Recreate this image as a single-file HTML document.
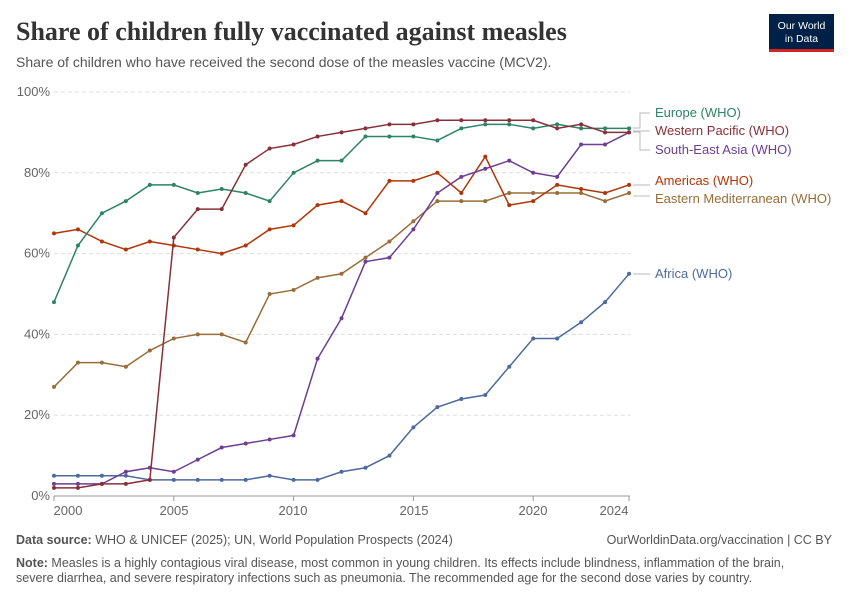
<!DOCTYPE html>
<html><head><meta charset="utf-8"><style>
body{margin:0;background:#fff;font-family:"Liberation Sans",sans-serif;}
svg text{font-family:"Liberation Sans",sans-serif;}
</style></head><body>
<svg id="s" width="850" height="600" xmlns="http://www.w3.org/2000/svg">
<rect width="850" height="600" fill="#fff"/>
<text x="16" y="40" style="font-family:'Liberation Serif',serif" font-size="26" font-weight="bold" fill="#333">Share of children fully vaccinated against measles</text>
<text x="16" y="67" font-size="14" fill="#555">Share of children who have received the second dose of the measles vaccine (MCV2).</text>
<rect x="769" y="14" width="65" height="38" fill="#002147"/>
<rect x="769" y="49" width="65" height="3" fill="#ce261e"/>
<text x="801.5" y="29" font-size="10.5" fill="#fff" text-anchor="middle">Our World</text>
<text x="801.5" y="42" font-size="10.5" fill="#fff" text-anchor="middle">in Data</text>
<g id="grid" font-size="13" fill="#666"></g>
<g id="lines"></g>
<g font-size="13">
<text x="655" y="117" fill="#2c8465">Europe (WHO)</text>
<text x="655" y="135" fill="#883039">Western Pacific (WHO)</text>
<text x="655" y="154" fill="#6d3e91">South-East Asia (WHO)</text>
<text x="655" y="185" fill="#b13507">Americas (WHO)</text>
<text x="655" y="203" fill="#996d39">Eastern Mediterranean (WHO)</text>
<text x="655" y="278" fill="#4c6a9c">Africa (WHO)</text>
</g>
<g stroke="#bbb" fill="none" stroke-width="1">
<path d="M633 128 H640 V113 H650"/><path d="M633 131 H650"/><path d="M633 132 H640 V150 H650"/>
<path d="M633 185 H650"/><path d="M633 196 H650"/><path d="M633 274 H650"/>
</g>
<text x="16" y="544" font-size="12.5" fill="#555"><tspan font-weight="bold">Data source:</tspan> WHO &amp; UNICEF (2025); UN, World Population Prospects (2024)</text>
<text x="832" y="544" font-size="12.5" fill="#555" text-anchor="end">OurWorldinData.org/vaccination | CC BY</text>
<text x="16" y="567" font-size="12.5" fill="#555"><tspan font-weight="bold">Note:</tspan> Measles is a highly contagious viral disease, most common in young children. Its effects include blindness, inflammation of the brain,</text>
<text x="16" y="582" font-size="12.5" fill="#555">severe diarrhea, and severe respiratory infections such as pneumonia. The recommended age for the second dose varies by country.</text>
</svg>
<script>
const NS="http://www.w3.org/2000/svg";
const X=y=>54+(y-2000)*23.96, Y=v=>496-v*4.04;
const g=document.getElementById('grid');
for(let v=0;v<=100;v+=20){
 const l=document.createElementNS(NS,'line');
 l.setAttribute('x1',54);l.setAttribute('x2',630);l.setAttribute('y1',Y(v));l.setAttribute('y2',Y(v));
 l.setAttribute('stroke',v==0?'#999':'#ddd');if(v)l.setAttribute('stroke-dasharray','4,3');g.appendChild(l);
 const t=document.createElementNS(NS,'text');t.setAttribute('x',50);t.setAttribute('y',Y(v)+4);t.setAttribute('text-anchor','end');t.textContent=v+'%';g.appendChild(t);
}
[[2000,68],[2005,174],[2010,293],[2015,414],[2020,533],[2024,614]].forEach(([yr,x])=>{
 const t=document.createElementNS(NS,'text');t.setAttribute('x',x);t.setAttribute('y',515);t.setAttribute('text-anchor','middle');t.textContent=yr;g.appendChild(t);
 const l=document.createElementNS(NS,'line');l.setAttribute('x1',X(yr));l.setAttribute('x2',X(yr));l.setAttribute('y1',496);l.setAttribute('y2',501);l.setAttribute('stroke','#999');g.appendChild(l);
});
const S=[
['#996d39',[27,33,33,32,36,39,40,40,38,50,51,54,55,59,63,68,73,73,73,75,75,75,75,73,75]],
['#b13507',[65,66,63,61,63,62,61,60,62,66,67,72,73,70,78,78,80,75,84,72,73,77,76,75,77]],
['#4c6a9c',[5,5,5,5,4,4,4,4,4,5,4,4,6,7,10,17,22,24,25,32,39,39,43,48,55]],
['#6d3e91',[3,3,3,6,7,6,9,12,13,14,15,34,44,58,59,66,75,79,81,83,80,79,87,87,90]],
['#2c8465',[48,62,70,73,77,77,75,76,75,73,80,83,83,89,89,89,88,91,92,92,91,92,91,91,91]],
['#883039',[2,2,3,3,4,64,71,71,82,86,87,89,90,91,92,92,93,93,93,93,93,91,92,90,90]]];
const L=document.getElementById('lines');
S.forEach(([c,d])=>{
 const p=document.createElementNS(NS,'polyline');
 p.setAttribute('points',d.map((v,i)=>X(2000+i)+','+Y(v)).join(' '));
 p.setAttribute('fill','none');p.setAttribute('stroke',c);p.setAttribute('stroke-width','1.5');L.appendChild(p);
 d.forEach((v,i)=>{const q=document.createElementNS(NS,'circle');q.setAttribute('cx',X(2000+i));q.setAttribute('cy',Y(v));q.setAttribute('r',2);q.setAttribute('fill',c);L.appendChild(q);});
});
</script>
</body></html>
